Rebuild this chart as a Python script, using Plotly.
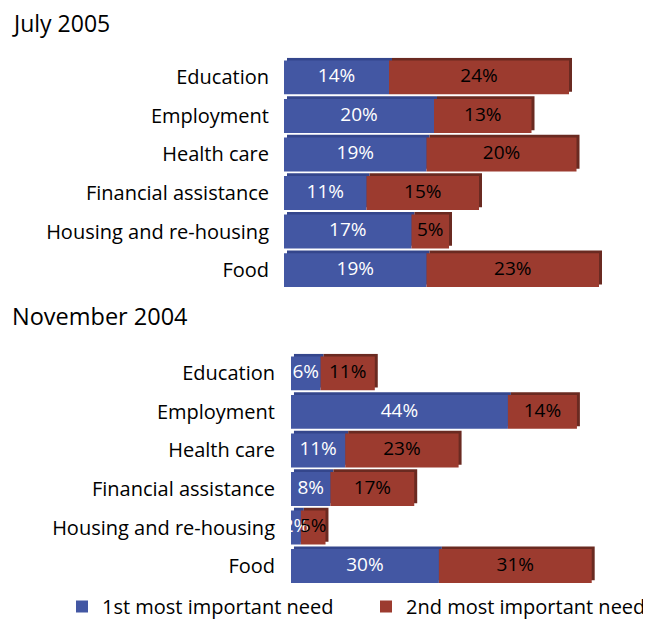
import plotly.graph_objects as go

categories = ["Education", "Employment", "Health care", "Financial assistance",
              "Housing and re-housing", "Food"]
jul2005_first = [14, 20, 19, 11, 17, 19]
jul2005_second = [24, 13, 20, 15, 5, 23]
nov2004_first = [6, 44, 11, 8, 2, 30]
nov2004_second = [11, 14, 23, 17, 5, 31]

title_top = "July 2005"
title_bottom = "November 2004"
legend_names = ["1st most important need", "2nd most important need"]

BLUE = "#4357a3"
RED = "#9c3b2f"
BLUE_D = "#34468c"
RED_D = "#6a2a21"
FONT = "Open Sans"

# page body has an 8px margin; work in window pixels and convert
OFF = 8
FW, FH = 651 - OFF, 626 - OFF


def px_x(xw):
    return (xw - OFF) / FW


def px_y(yw):
    return 1 - (yw - OFF) / FH


fig = go.Figure()


def add_panel(first, second, xa, ya, show_legend, depth_shift_x):
    xref = "x" if xa == 1 else f"x{xa}"
    yref = "y" if ya == 1 else f"y{ya}"
    W = 0.88
    sh = 0.07
    fig.add_trace(go.Bar(x=first, y=categories, base=[depth_shift_x] * len(first),
                         orientation="h", marker=dict(color=BLUE_D, line=dict(width=0)),
                         width=W, offset=-W / 2 - sh, showlegend=False, hoverinfo="skip",
                         xaxis=xref, yaxis=yref))
    fig.add_trace(go.Bar(x=second, y=categories, base=[a + depth_shift_x for a in first],
                         orientation="h", marker=dict(color=RED_D, line=dict(width=0)),
                         width=W, offset=-W / 2 - sh, showlegend=False, hoverinfo="skip",
                         xaxis=xref, yaxis=yref))
    fig.add_trace(go.Bar(x=first, y=categories, base=[0] * len(first), orientation="h",
                         name=legend_names[0], marker=dict(color=BLUE, line=dict(width=0)),
                         width=W, offset=-W / 2, showlegend=show_legend, legend="legend",
                         xaxis=xref, yaxis=yref))
    fig.add_trace(go.Bar(x=second, y=categories, base=first, orientation="h",
                         name=legend_names[1], marker=dict(color=RED, line=dict(width=0)),
                         width=W, offset=-W / 2, showlegend=show_legend, legend="legend2",
                         xaxis=xref, yaxis=yref))
    fig.add_trace(go.Scatter(x=[a / 2 for a in first], y=categories, mode="text",
                             text=[f"{a}%" for a in first],
                             textfont=dict(color="white", size=19, family=FONT),
                             showlegend=False, hoverinfo="skip", xaxis=xref, yaxis=yref))
    fig.add_trace(go.Scatter(x=[a + b / 2 for a, b in zip(first, second)], y=categories,
                             mode="text", text=[f"{b}%" for b in second],
                             textfont=dict(color="black", size=19, family=FONT),
                             showlegend=False, hoverinfo="skip", xaxis=xref, yaxis=yref))


add_panel(jul2005_first, jul2005_second, 1, 1, True, 0.4)
add_panel(nov2004_first, nov2004_second, 2, 2, False, 0.6)

axis_common = dict(showgrid=False, zeroline=False, showline=False, showticklabels=False,
                   ticks="", fixedrange=True)


def yaxis_style(tl):
    return dict(showgrid=False, zeroline=False, showline=False, autorange="reversed",
                ticks="outside", ticklen=tl, tickcolor="rgba(0,0,0,0)",
                tickfont=dict(size=20, color="black", family=FONT), fixedrange=True)


legend_common = dict(orientation="h", y=0, yanchor="bottom",
                     font=dict(size=20, color="black", family=FONT),
                     bgcolor="rgba(0,0,0,0)")

fig.update_layout(
    width=FW, height=FH,
    margin=dict(l=0, r=0, t=0, b=0),
    paper_bgcolor="white", plot_bgcolor="white",
    barmode="overlay",
    font=dict(family=FONT, color="black"),
    xaxis=dict(domain=[px_x(284), 1], range=[0, (651 - 284) / 7.5], anchor="y", **axis_common),
    yaxis=dict(domain=[px_y(289.4), px_y(57.7)], anchor="x", **yaxis_style(10)),
    xaxis2=dict(domain=[px_x(291), 1], range=[0, (651 - 291) / 4.93], anchor="y2", **axis_common),
    yaxis2=dict(domain=[px_y(585.3), px_y(353.7)], anchor="x2", **yaxis_style(11)),
    showlegend=True,
    legend=dict(x=px_x(62), xanchor="left", **legend_common),
    legend2=dict(x=1, xanchor="right", **legend_common),
    annotations=[
        dict(text=title_top, x=px_x(10), y=px_y(23), xref="paper", yref="paper",
             xanchor="left", yanchor="middle", showarrow=False,
             font=dict(size=23, color="black", family=FONT)),
        dict(text=title_bottom, x=px_x(10), y=px_y(316), xref="paper", yref="paper",
             xanchor="left", yanchor="middle", showarrow=False,
             font=dict(size=23.5, color="black", family=FONT)),
    ],
)

fig.write_html("out.html")
